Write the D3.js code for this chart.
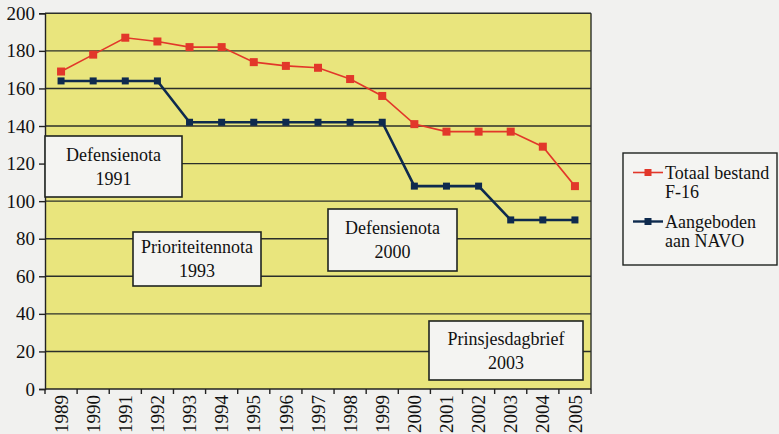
<!DOCTYPE html>
<html>
<head>
<meta charset="utf-8">
<script src="https://cdn.jsdelivr.net/npm/d3@7"></script>
<style>
  body { margin: 0; background: #f1f1ef; }
  svg text { font-family: "Liberation Serif", "Times New Roman", Times, serif; }
</style>
</head>
<body>
<div class="gv-chart"></div>
<script>
// data
var years = ["1989","1990","1991","1992","1993","1994","1995","1996","1997","1998","1999","2000","2001","2002","2003","2004","2005"];
var totaal = [169, 178, 187, 185, 182, 182, 174, 172, 171, 165, 156, 141, 137, 137, 137, 129, 108];
var navo = [164, 164, 164, 164, 142, 142, 142, 142, 142, 142, 142, 108, 108, 108, 90, 90, 90];
var yTicks = [0, 20, 40, 60, 80, 100, 120, 140, 160, 180, 200];
var seriesNames = [["Totaal bestand", "F-16"], ["Aangeboden", "aan NAVO"]];
var notes = [["Defensienota", "1991"], ["Prioriteitennota", "1993"], ["Defensienota", "2000"], ["Prinsjesdagbrief", "2003"]];

var red = "#e2372a", navy = "#0e2a4e";
var serif = "'Liberation Serif', 'Times New Roman', Times, serif";

var width = 779, height = 434;
var plot = {left: 45, right: 591, top: 13.3, bottom: 389};

var svg = d3.select(".gv-chart").append("svg")
    .attr("width", width).attr("height", height);

var x = d3.scaleBand().domain(years).range([plot.left, plot.right]).padding(0);
var y = d3.scaleLinear().domain([0, 200]).range([plot.bottom, plot.top]);
var cx = function(d) { return x(d) + x.bandwidth() / 2; };

// plot background
svg.append("rect")
    .attr("x", plot.left).attr("y", plot.top)
    .attr("width", plot.right - plot.left).attr("height", plot.bottom - plot.top)
    .attr("fill", "#e9e57d");

// grid lines
svg.append("g").selectAll("line")
    .data(yTicks.filter(function(v) { return v > 0; }))
    .enter().append("line")
    .attr("x1", plot.left).attr("x2", plot.right)
    .attr("y1", function(d) { return y(d); }).attr("y2", function(d) { return y(d); })
    .attr("stroke", "#2b2f2a").attr("stroke-width", 1.4);

svg.append("line")
    .attr("x1", plot.right).attr("x2", plot.right)
    .attr("y1", plot.top).attr("y2", plot.bottom)
    .attr("stroke", "#2b2f2a").attr("stroke-width", 1.4);

// y axis
var yAxis = svg.append("g")
    .attr("transform", "translate(" + plot.left + ",0)")
    .call(d3.axisLeft(y).tickValues(yTicks).tickSize(6).tickPadding(4));
yAxis.attr("font-family", serif);
yAxis.select(".domain").attr("stroke", "#222").attr("stroke-width", 1.4);
yAxis.selectAll(".tick line").attr("stroke", "#222").attr("stroke-width", 1.4);
yAxis.selectAll("text")
    .attr("font-family", serif).attr("font-size", 19).attr("fill", "#111");

// x axis: ticks on band boundaries
var xAxis = svg.append("g").attr("transform", "translate(0," + plot.bottom + ")");
xAxis.append("line")
    .attr("x1", plot.left).attr("x2", plot.right)
    .attr("stroke", "#222").attr("stroke-width", 1.4);
xAxis.selectAll(".xt")
    .data(years.concat(["end"]))
    .enter().append("line")
    .attr("class", "xt")
    .attr("x1", function(d, i) { return plot.left + i * x.bandwidth(); })
    .attr("x2", function(d, i) { return plot.left + i * x.bandwidth(); })
    .attr("y1", 0).attr("y2", 5)
    .attr("stroke", "#222").attr("stroke-width", 1.4);
xAxis.selectAll("text")
    .data(years)
    .enter().append("text")
    .attr("transform", function(d) { return "translate(" + cx(d) + ",6) rotate(-90)"; })
    .attr("text-anchor", "end")
    .attr("dy", "0.35em")
    .attr("font-family", serif)
    .attr("font-size", 19).attr("fill", "#111")
    .text(function(d) { return d; });

// lines
var line = d3.line()
    .x(function(d, i) { return cx(years[i]); })
    .y(function(d) { return y(d); });

svg.append("path").datum(navo)
    .attr("d", line).attr("fill", "none")
    .attr("stroke", navy).attr("stroke-width", 2.6);
svg.append("g").selectAll("rect")
    .data(navo).enter().append("rect")
    .attr("x", function(d, i) { return cx(years[i]) - 3.5; })
    .attr("y", function(d) { return y(d) - 3.5; })
    .attr("width", 7).attr("height", 7)
    .attr("fill", navy);

svg.append("path").datum(totaal)
    .attr("d", line).attr("fill", "none")
    .attr("stroke", red).attr("stroke-width", 1.6);
svg.append("g").selectAll("rect")
    .data(totaal).enter().append("rect")
    .attr("x", function(d, i) { return cx(years[i]) - 4; })
    .attr("y", function(d) { return y(d) - 4; })
    .attr("width", 8).attr("height", 8)
    .attr("fill", red);

// annotation boxes
var noteBoxes = [
  {x0: 45, x1: 182, y0: 136, y1: 197},
  {x0: 133, x1: 261, y0: 232, y1: 286},
  {x0: 328, x1: 457, y0: 209, y1: 271},
  {x0: 429, x1: 583, y0: 321, y1: 380}
];
var note = svg.append("g").selectAll("g")
    .data(notes).enter().append("g");
note.append("rect")
    .attr("x", function(d, i) { return noteBoxes[i].x0; })
    .attr("y", function(d, i) { return noteBoxes[i].y0; })
    .attr("width", function(d, i) { return noteBoxes[i].x1 - noteBoxes[i].x0; })
    .attr("height", function(d, i) { return noteBoxes[i].y1 - noteBoxes[i].y0; })
    .attr("fill", "#f4f4f2").attr("stroke", "#1f2320").attr("stroke-width", 1.6);
note.each(function(d, i) {
  var b = noteBoxes[i], mid = (b.y0 + b.y1) / 2;
  d3.select(this).selectAll("text").data(d).enter().append("text")
      .attr("x", (b.x0 + b.x1) / 2)
      .attr("y", function(t, j) { return mid - 12 + j * 24 + 6; })
      .attr("text-anchor", "middle")
      .attr("font-family", serif)
      .attr("font-size", 18).attr("fill", "#111")
      .text(function(t) { return t; });
});

// legend
var legend = svg.append("g");
legend.append("rect")
    .attr("x", 623).attr("y", 153).attr("width", 154).attr("height", 112)
    .attr("fill", "#f4f4f2").attr("stroke", "#1f2320").attr("stroke-width", 1.4);
var legendY = [172.5, 221.5];
var legendCol = [red, navy];
seriesNames.forEach(function(names, i) {
  var g = legend.append("g").attr("transform", "translate(0," + legendY[i] + ")");
  g.append("line").attr("x1", 633).attr("x2", 663)
      .attr("stroke", legendCol[i]).attr("stroke-width", i ? 2.4 : 1.6);
  g.append("rect").attr("x", 644.5).attr("y", -3.5).attr("width", 7).attr("height", 7)
      .attr("fill", legendCol[i]);
  g.selectAll("text").data(names).enter().append("text")
      .attr("x", 665)
      .attr("y", function(t, j) { return 6 + j * 19.5; })
      .attr("font-family", serif)
      .attr("font-size", 18).attr("fill", "#111")
      .text(function(t) { return t; });
});
</script>
</body>
</html>
